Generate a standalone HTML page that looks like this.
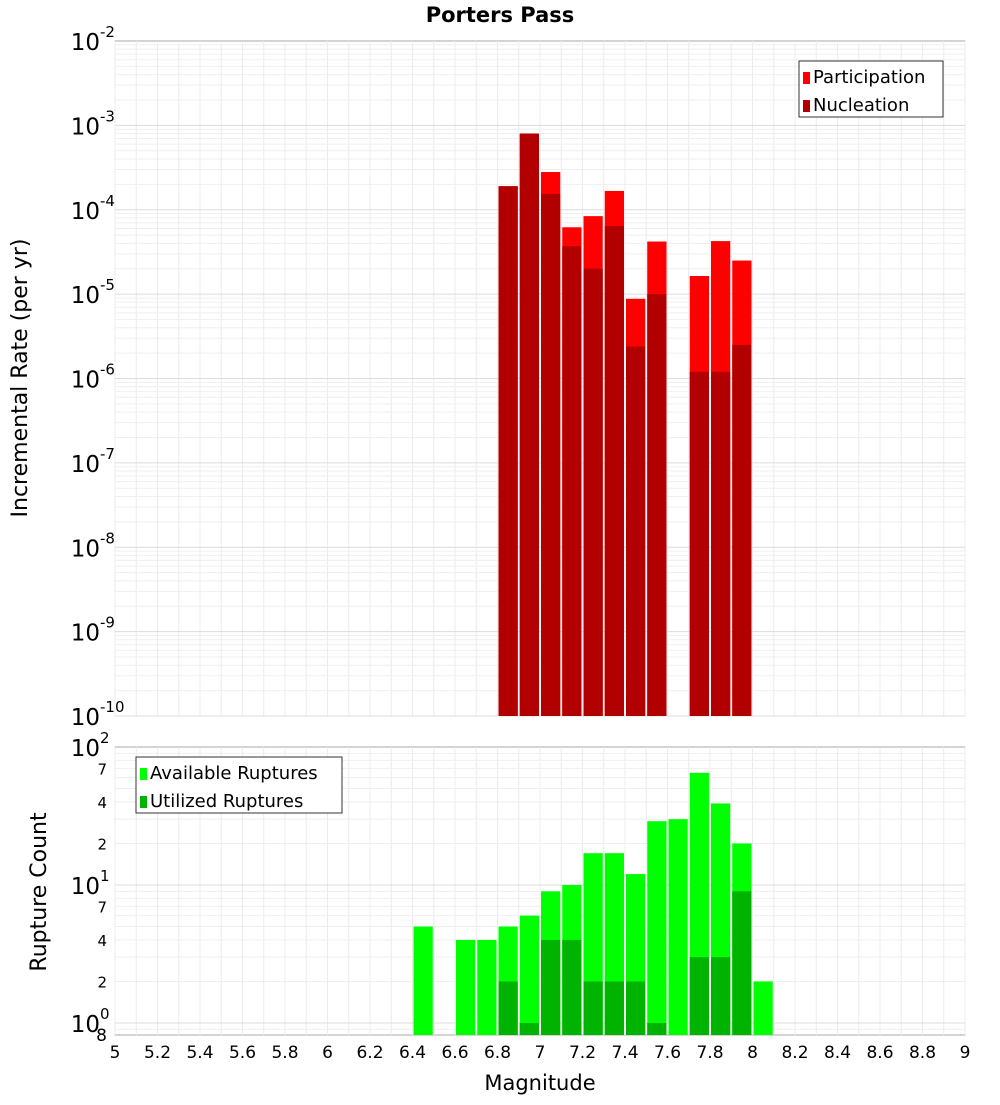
<!DOCTYPE html>
<html><head><meta charset="utf-8"><style>
body{margin:0;background:#fff;font-family:"Liberation Sans","DejaVu Sans",sans-serif}
svg text{font-family:"DejaVu Sans","Liberation Sans",sans-serif}
</style></head><body>
<svg id="c" width="1000" height="1100" xmlns="http://www.w3.org/2000/svg"></svg>
<script>
const mags=[6.45,6.55,6.65,6.75,6.85,6.95,7.05,7.15,7.25,7.35,7.45,7.55,7.65,7.75,7.85,7.95,8.05];
const participation=[0,0,0,0,1.9e-4,8e-4,2.8e-4,6.2e-5,8.4e-5,1.67e-4,8.8e-6,4.2e-5,0,1.64e-5,4.25e-5,2.5e-5,0];
const nucleation=[0,0,0,0,1.9e-4,8e-4,1.54e-4,3.7e-5,2e-5,6.4e-5,2.4e-6,1.0e-5,0,1.2e-6,1.2e-6,2.5e-6,0];
const available=[5,0,4,4,5,6,9,10,17,17,12,29,30,65,39,20,2];
const utilized=[0,0,0,0,2,1,4,4,2,2,2,1,0,3,3,9,0];
const xTicks=[5,5.2,5.4,5.6,5.8,6,6.2,6.4,6.6,6.8,7,7.2,7.4,7.6,7.8,8,8.2,8.4,8.6,8.8,9];
const topDecades=[-2,-3,-4,-5,-6,-7,-8,-9,-10];
const botMinor=[2,4,7,20,40,70];

const svg=document.getElementById('c');const NS='http://www.w3.org/2000/svg';
function el(t,a,txt){const e=document.createElementNS(NS,t);for(const k in a)e.setAttribute(k,a[k]);if(txt!==undefined)e.textContent=txt;svg.appendChild(e);return e;}
const X0=115,X1=965;const x=m=>X0+(m-5)/4*(X1-X0);
const T0=41,T1=716;const yT=v=>T0+(-2-Math.log10(v))/8*(T1-T0);
const B0=747,B1=1035;const BDEC=138;const yB=v=>1023-Math.log10(v)*BDEC;

// plot backgrounds
let r=el('rect',{x:X0,y:T0,width:X1-X0,height:T1-T0,fill:'#fff',stroke:'#aaa'});

r=el('rect',{x:X0,y:B0,width:X1-X0,height:B1-B0,fill:'#fff',stroke:'#aaa'});

// grids
for(let m=5;m<=9.001;m+=0.1){const px=x(m);
 el('line',{x1:px,x2:px,y1:T0,y2:T1,stroke:'#ececec'});el('line',{x1:px,x2:px,y1:B0,y2:B1,stroke:'#ececec'});}
for(let d=-10;d<-2;d++)for(let k=1;k<10;k++){const py=yT(k*Math.pow(10,d));el('line',{x1:X0,x2:X1,y1:py,y2:py,stroke:k==1?'#dcdcdc':'#efefef'});}
for(let d=-1;d<2;d++)for(let k=1;k<10;k++){const py=yB(k*Math.pow(10,d));if(py<B0||py>B1)continue;el('line',{x1:X0,x2:X1,y1:py,y2:py,stroke:k==1?'#dcdcdc':'#efefef'});}
// top bars
const hw=(x(5.1)-x(5))/2;
mags.forEach((m,i)=>{
 if(participation[i]>0){const b=el('rect',{x:x(m)-hw+1,y:yT(participation[i]),width:2*hw-2,height:T1-yT(participation[i]),fill:'#ff0000'});
 }
 if(nucleation[i]>0){const b=el('rect',{x:x(m)-hw+1,y:yT(nucleation[i]),width:2*hw-2,height:T1-yT(nucleation[i]),fill:'#b20000'});
 }
 if(available[i]>0){const b=el('rect',{x:x(m)-hw+1,y:yB(available[i]),width:2*hw-2,height:B1-yB(available[i]),fill:'#00ff00'});
 }
 if(utilized[i]>0){const b=el('rect',{x:x(m)-hw+1,y:yB(utilized[i]),width:2*hw-2,height:B1-yB(utilized[i]),fill:'#00b300'});
 }
});
// top y ticks
topDecades.forEach(d=>{const py=yT(Math.pow(10,d));
 const t=el('text',{x:100,y:py+9,'font-size':23,'text-anchor':'end',fill:'#000'},'10');
 
 const s=el('text',{x:100,y:py-4,'font-size':15,fill:'#000'},String(d));
 });
// bottom y ticks
[[1,'0'],[10,'1'],[100,'2']].forEach(([v,e])=>{const py=yB(v);
 const t=el('text',{x:100,y:py+9,'font-size':23,'text-anchor':'end',fill:'#000'},'10');
 
 const s=el('text',{x:100,y:py-4,'font-size':15,fill:'#000'},e);
 });
botMinor.forEach(v=>{const t=el('text',{x:107,y:yB(v)+6,'font-size':15,'text-anchor':'end',fill:'#000'},String(v).charAt(0));
 });
let t8=el('text',{x:107,y:1041,'font-size':17,'text-anchor':'end',fill:'#000'},'8');

// x ticks
xTicks.forEach(m=>{const t=el('text',{x:x(m),y:1058,'font-size':17,'text-anchor':'middle',fill:'#000'},String(m));
 });
// titles
let tt=el('text',{x:500,y:22,'font-size':21,'font-weight':'bold','text-anchor':'middle'},'Porters Pass');

tt=el('text',{x:540,y:1090,'font-size':21,'text-anchor':'middle'},'Magnitude');

tt=el('text',{x:0,y:0,'font-size':22,'text-anchor':'middle',transform:'translate(27,378) rotate(-90)'},'Incremental Rate (per yr)');

tt=el('text',{x:0,y:0,'font-size':22,'text-anchor':'middle',transform:'translate(46,892) rotate(-90)'},'Rupture Count');

// legends
function legend(x0,y0,w,items,name){const g=el('rect',{x:x0,y:y0,width:w,height:56,fill:'#fff',stroke:'#333'});
 
 items.forEach(([c,l],i)=>{const s=el('rect',{x:x0+4,y:y0+11+i*28,width:7,height:12,fill:c});
 
 const t=el('text',{x:x0+14,y:y0+22+i*28,'font-size':18},l);
 });}
legend(799,61,144,[['#ff0000','Participation'],['#b20000','Nucleation']],'top-legend');
legend(136,757,206,[['#00ff00','Available Ruptures'],['#00b300','Utilized Ruptures']],'bottom-legend');
</script>
</body></html>
